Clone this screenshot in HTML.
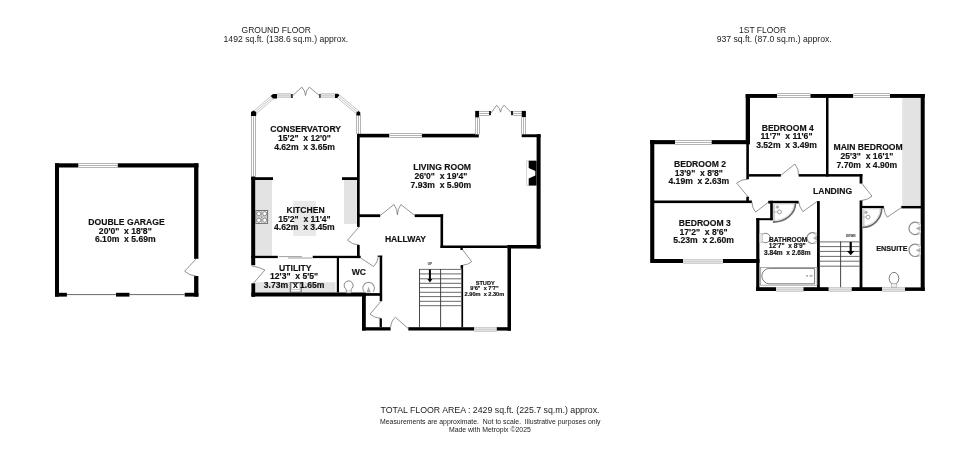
<!DOCTYPE html>
<html><head><meta charset="utf-8"><style>
html,body{margin:0;padding:0;background:#fff;width:980px;height:464px;overflow:hidden}
svg{display:block;will-change:transform}
text{font-family:"Liberation Sans",sans-serif;white-space:pre}
</style></head><body>
<svg width="980" height="464" viewBox="0 0 980 464">
<rect width="980" height="464" fill="#fff"/>
<rect x="55.00" y="163.30" width="23.60" height="4.20" fill="#000"/>
<rect x="78.60" y="163.00" width="39.20" height="5.00" fill="#fff"/>
<line x1="78.6" y1="163.5" x2="117.8" y2="163.5" stroke="#b4b4b4" stroke-width="1"/>
<line x1="78.6" y1="167.5" x2="117.8" y2="167.5" stroke="#b4b4b4" stroke-width="1"/>
<line x1="78.6" y1="165.5" x2="117.8" y2="165.5" stroke="#b4b4b4" stroke-width="1"/>
<rect x="117.80" y="163.30" width="80.60" height="4.20" fill="#000"/>
<rect x="55.00" y="163.30" width="4.00" height="133.30" fill="#000"/>
<rect x="194.10" y="163.30" width="4.30" height="95.50" fill="#000"/>
<rect x="194.10" y="276.00" width="4.30" height="20.60" fill="#000"/>
<rect x="55.00" y="292.80" width="11.90" height="3.80" fill="#000"/>
<rect x="116.00" y="292.80" width="13.50" height="3.80" fill="#000"/>
<rect x="184.70" y="292.80" width="13.70" height="3.80" fill="#000"/>
<line x1="66.9" y1="294.6" x2="116" y2="294.6" stroke="#444" stroke-width="0.8"/>
<line x1="129.5" y1="294.6" x2="184.7" y2="294.6" stroke="#444" stroke-width="0.8"/>
<path d="M196,259 L184.7,271.2 A16.81,16.81 0 0 0 196,276" fill="none" stroke="#666" stroke-width="0.7"/>
<rect x="251.00" y="116.00" width="5.00" height="60.50" fill="#fff"/>
<line x1="251.5" y1="116" x2="251.5" y2="176.5" stroke="#b4b4b4" stroke-width="1"/>
<line x1="255.5" y1="116" x2="255.5" y2="176.5" stroke="#b4b4b4" stroke-width="1"/>
<line x1="253.5" y1="116" x2="253.5" y2="176.5" stroke="#b4b4b4" stroke-width="1"/>
<polygon points="255.32,115.23 275.02,97.93 271.98,94.47 252.28,111.77" fill="#fff"/>
<line x1="254.99" y1="114.85" x2="274.69" y2="97.55" stroke="#bdbdbd" stroke-width="0.9"/>
<line x1="253.8" y1="113.5" x2="273.5" y2="96.2" stroke="#bdbdbd" stroke-width="0.9"/>
<line x1="252.61" y1="112.15" x2="272.31" y2="94.85" stroke="#bdbdbd" stroke-width="0.9"/>
<polygon points="251,112 253.5,110.4 256.2,112 256.2,116 251,116" fill="#000"/>
<polygon points="270.8,96 273,93.9 277,93.9 277,98.4 273,98.4" fill="#000"/>
<rect x="277.00" y="93.00" width="13.90" height="5.00" fill="#dedede"/>
<line x1="277" y1="93.5" x2="290.9" y2="93.5" stroke="#d2d2d2" stroke-width="1"/>
<line x1="277" y1="97.5" x2="290.9" y2="97.5" stroke="#d2d2d2" stroke-width="1"/>
<line x1="277" y1="95.5" x2="290.9" y2="95.5" stroke="#d2d2d2" stroke-width="1"/>
<rect x="290.90" y="94.00" width="1.90" height="4.00" fill="#333"/>
<path d="M292.8,95.5 L301.8,87.1 A12.51,12.51 0 0 1 305.5,95.5" fill="none" stroke="#666" stroke-width="0.7"/>
<path d="M319.3,95.5 L309.3,87.1 A13.43,13.43 0 0 0 305.5,95.5" fill="none" stroke="#666" stroke-width="0.7"/>
<rect x="319.30" y="94.00" width="1.50" height="4.00" fill="#111"/>
<rect x="320.80" y="93.00" width="14.20" height="5.00" fill="#dedede"/>
<line x1="320.8" y1="93.5" x2="335" y2="93.5" stroke="#d2d2d2" stroke-width="1"/>
<line x1="320.8" y1="97.5" x2="335" y2="97.5" stroke="#d2d2d2" stroke-width="1"/>
<line x1="320.8" y1="95.5" x2="335" y2="95.5" stroke="#d2d2d2" stroke-width="1"/>
<polygon points="335,93.8 338,93.8 340.2,96 338,97.9 335,97.9" fill="#000"/>
<polygon points="337.03,98.27 356.83,114.77 359.77,111.23 339.97,94.73" fill="#fff"/>
<line x1="337.35" y1="97.88" x2="357.15" y2="114.38" stroke="#bdbdbd" stroke-width="0.9"/>
<line x1="338.5" y1="96.5" x2="358.3" y2="113.0" stroke="#bdbdbd" stroke-width="0.9"/>
<line x1="339.65" y1="95.12" x2="359.45" y2="111.62" stroke="#bdbdbd" stroke-width="0.9"/>
<rect x="356.00" y="115.00" width="5.00" height="19.00" fill="#fff"/>
<line x1="356.5" y1="115" x2="356.5" y2="134" stroke="#b4b4b4" stroke-width="1"/>
<line x1="360.5" y1="115" x2="360.5" y2="134" stroke="#b4b4b4" stroke-width="1"/>
<line x1="358.5" y1="115" x2="358.5" y2="134" stroke="#b4b4b4" stroke-width="1"/>
<polygon points="356.4,112.5 358.5,110.9 360.3,112.5 360.3,115.5 356.4,115.5" fill="#000"/>
<rect x="255.20" y="180.00" width="16.80" height="75.80" fill="#e3e3e3"/>
<rect x="344.00" y="180.00" width="12.80" height="43.90" fill="#e3e3e3"/>
<rect x="293.20" y="200.80" width="22.70" height="35.20" fill="#e9e9e9"/>
<rect x="251.20" y="176.50" width="4.00" height="88.70" fill="#000"/>
<rect x="251.20" y="177.20" width="21.80" height="2.80" fill="#000"/>
<rect x="342.00" y="177.20" width="16.00" height="2.80" fill="#000"/>
<rect x="357.00" y="134.00" width="2.70" height="92.90" fill="#000"/>
<rect x="357.00" y="244.90" width="2.70" height="13.20" fill="#000"/>
<path d="M359,227 L347.5,240.2 A17.75,17.75 0 0 0 359,245" fill="none" stroke="#666" stroke-width="0.7"/>
<rect x="251.20" y="255.80" width="26.60" height="2.30" fill="#000"/>
<rect x="312.70" y="255.80" width="48.00" height="2.30" fill="#000"/>
<line x1="278.8" y1="256.6" x2="302" y2="256.6" stroke="#777" stroke-width="0.7"/>
<line x1="288" y1="258.0" x2="312.2" y2="258.0" stroke="#777" stroke-width="0.7"/>
<rect x="255.9" y="210.5" width="11.7" height="12.9" fill="#fff" stroke="#666" stroke-width="0.9"/>
<circle cx="258.8" cy="213.7" r="2.1" fill="none" stroke="#777" stroke-width="0.9"/>
<circle cx="264.7" cy="213.7" r="2.1" fill="none" stroke="#777" stroke-width="0.9"/>
<circle cx="258.8" cy="220.2" r="2.1" fill="none" stroke="#777" stroke-width="0.9"/>
<circle cx="264.7" cy="220.2" r="2.1" fill="none" stroke="#777" stroke-width="0.9"/>
<path d="M261.75,211 V223 M256.5,217 H267" stroke="#888" stroke-width="0.8"/>
<rect x="255.20" y="282.20" width="80.30" height="10.30" fill="#e3e3e3"/>
<rect x="251.40" y="283.30" width="3.80" height="13.50" fill="#000"/>
<path d="M251.6,265.8 Q259,267 264.9,270 L253.4,283.3" fill="none" stroke="#666" stroke-width="0.7"/>
<rect x="251.40" y="292.50" width="114.40" height="4.00" fill="#000"/>
<rect x="336.80" y="258.00" width="2.20" height="34.50" fill="#000"/>
<rect x="290.3" y="282.6" width="10.8" height="9.6" fill="#fff" stroke="#555" stroke-width="1"/>
<rect x="291.6" y="283.8" width="8.2" height="5.6" fill="#fff" stroke="#999" stroke-width="0.5"/>
<path d="M360.7,258 L373.6,266.5 A16.61,16.61 0 0 0 378.4,256.4" fill="none" stroke="#666" stroke-width="0.7"/>
<rect x="379.70" y="255.80" width="2.50" height="45.40" fill="#000"/>
<rect x="377.60" y="255.60" width="4.60" height="1.20" fill="#000"/>
<rect x="362.00" y="293.10" width="19.90" height="2.70" fill="#000"/>
<path d="M346.3,289.4 A4.5,4.6 0 1 1 351.0,289.4 L351.0,292.8 L346.3,292.8 Z" fill="#fff" stroke="#777" stroke-width="0.9"/>
<rect x="346.8" y="290" width="3.8" height="2.6" fill="#e8e8e8"/>
<path d="M364.2,292 A5.8,5.8 0 1 1 373.0,292" fill="#fff" stroke="#9a9a9a" stroke-width="1.1"/>
<path d="M368.6,286.5 L370.8,292.6 L366.4,292.6 Z" fill="#aaa"/>
<rect x="362.00" y="293.00" width="3.80" height="37.50" fill="#000"/>
<rect x="362.00" y="327.20" width="28.60" height="3.30" fill="#000"/>
<rect x="408.30" y="327.20" width="66.10" height="3.30" fill="#000"/>
<rect x="474.40" y="327.00" width="22.40" height="5.00" fill="#e3e3e3"/>
<line x1="474.4" y1="327.5" x2="496.8" y2="327.5" stroke="#cfcfcf" stroke-width="1"/>
<line x1="474.4" y1="331.5" x2="496.8" y2="331.5" stroke="#cfcfcf" stroke-width="1"/>
<line x1="474.4" y1="329.5" x2="496.8" y2="329.5" stroke="#cfcfcf" stroke-width="1"/>
<rect x="496.80" y="327.20" width="14.20" height="3.40" fill="#000"/>
<path d="M381,301.2 L370.1,314.1 A17.04,17.04 0 0 0 381,318.4" fill="none" stroke="#666" stroke-width="0.7"/>
<rect x="379.60" y="318.40" width="2.30" height="8.80" fill="#000"/>
<path d="M390.6,327.2 Q391.5,320 395.4,317.3 L408.3,328.6" fill="none" stroke="#666" stroke-width="0.7"/>
<rect x="357.00" y="214.30" width="23.20" height="2.80" fill="#000"/>
<rect x="414.70" y="214.30" width="28.40" height="2.80" fill="#000"/>
<path d="M380.2,215.5 L394,204.5 A17.43,17.43 0 0 1 397.4,214.8" fill="none" stroke="#666" stroke-width="0.7"/>
<path d="M414.7,215.5 L400.9,204.5 A17.48,17.48 0 0 0 397.4,214.8" fill="none" stroke="#666" stroke-width="0.7"/>
<rect x="440.50" y="214.30" width="2.60" height="33.70" fill="#000"/>
<rect x="440.50" y="245.50" width="67.00" height="2.50" fill="#000"/>
<rect x="507.50" y="245.00" width="33.00" height="3.50" fill="#000"/>
<rect x="507.50" y="245.00" width="3.50" height="85.60" fill="#000"/>
<rect x="536.60" y="134.30" width="4.00" height="114.20" fill="#000"/>
<rect x="460.40" y="247.90" width="2.40" height="2.10" fill="#000"/>
<path d="M462.8,250 L471.7,261.6 A14.91,14.91 0 0 1 462.8,265.2" fill="none" stroke="#666" stroke-width="0.7"/>
<rect x="460.60" y="265.20" width="2.30" height="3.30" fill="#000"/>
<rect x="461.40" y="265.20" width="1.70" height="62.00" fill="#000"/>
<line x1="419.5" y1="269.4" x2="461" y2="269.4" stroke="#6a6a6a" stroke-width="1"/>
<line x1="419.5" y1="273.9" x2="461" y2="273.9" stroke="#6a6a6a" stroke-width="1"/>
<line x1="419.5" y1="278.8" x2="461" y2="278.8" stroke="#6a6a6a" stroke-width="1"/>
<line x1="419.5" y1="283.3" x2="461" y2="283.3" stroke="#6a6a6a" stroke-width="1"/>
<line x1="419.5" y1="287.6" x2="461" y2="287.6" stroke="#6a6a6a" stroke-width="1"/>
<line x1="419.5" y1="292.3" x2="461" y2="292.3" stroke="#6a6a6a" stroke-width="1"/>
<line x1="419.5" y1="296.6" x2="461" y2="296.6" stroke="#6a6a6a" stroke-width="1"/>
<line x1="419.5" y1="301.3" x2="461" y2="301.3" stroke="#6a6a6a" stroke-width="1"/>
<line x1="419.5" y1="305.7" x2="461" y2="305.7" stroke="#6a6a6a" stroke-width="1"/>
<line x1="419.5" y1="269.0" x2="419.5" y2="327.2" stroke="#333" stroke-width="0.9"/>
<line x1="440.6" y1="269.0" x2="440.6" y2="327.2" stroke="#333" stroke-width="0.9"/>
<rect x="428.90" y="269.50" width="2.00" height="10.10" fill="#000"/>
<polygon points="427.4,279 432.4,279 429.9,282.6" fill="#000"/>
<rect x="357.00" y="133.80" width="32.50" height="3.60" fill="#000"/>
<rect x="389.50" y="133.00" width="32.40" height="5.00" fill="#fff"/>
<line x1="389.5" y1="133.5" x2="421.9" y2="133.5" stroke="#b4b4b4" stroke-width="1"/>
<line x1="389.5" y1="137.5" x2="421.9" y2="137.5" stroke="#b4b4b4" stroke-width="1"/>
<line x1="389.5" y1="135.5" x2="421.9" y2="135.5" stroke="#b4b4b4" stroke-width="1"/>
<rect x="421.90" y="133.80" width="56.90" height="3.60" fill="#000"/>
<rect x="475.00" y="117.40" width="5.00" height="16.90" fill="#fff"/>
<line x1="475.5" y1="117.4" x2="475.5" y2="134.3" stroke="#b4b4b4" stroke-width="1"/>
<line x1="479.5" y1="117.4" x2="479.5" y2="134.3" stroke="#b4b4b4" stroke-width="1"/>
<line x1="477.5" y1="117.4" x2="477.5" y2="134.3" stroke="#b4b4b4" stroke-width="1"/>
<rect x="475.20" y="110.90" width="3.80" height="6.50" fill="#000"/>
<rect x="479.00" y="111.00" width="10.00" height="5.00" fill="#fff"/>
<line x1="479" y1="111.5" x2="489" y2="111.5" stroke="#b4b4b4" stroke-width="1"/>
<line x1="479" y1="115.5" x2="489" y2="115.5" stroke="#b4b4b4" stroke-width="1"/>
<line x1="479" y1="113.5" x2="489" y2="113.5" stroke="#b4b4b4" stroke-width="1"/>
<rect x="489.00" y="111.00" width="2.00" height="4.20" fill="#222"/>
<path d="M491,113 L496.6,105.3 A9.53,9.53 0 0 1 500.5,112.2" fill="none" stroke="#666" stroke-width="0.7"/>
<path d="M511.7,113 L504,105.3 A11.06,11.06 0 0 0 500.5,112.2" fill="none" stroke="#666" stroke-width="0.7"/>
<rect x="511.00" y="111.00" width="2.40" height="4.20" fill="#222"/>
<rect x="513.40" y="111.00" width="8.30" height="5.00" fill="#fff"/>
<line x1="513.4" y1="111.5" x2="521.7" y2="111.5" stroke="#b4b4b4" stroke-width="1"/>
<line x1="513.4" y1="115.5" x2="521.7" y2="115.5" stroke="#b4b4b4" stroke-width="1"/>
<line x1="513.4" y1="113.5" x2="521.7" y2="113.5" stroke="#b4b4b4" stroke-width="1"/>
<rect x="521.70" y="110.90" width="4.20" height="6.50" fill="#000"/>
<rect x="521.00" y="117.40" width="5.00" height="16.90" fill="#fff"/>
<line x1="521.5" y1="117.4" x2="521.5" y2="134.3" stroke="#b4b4b4" stroke-width="1"/>
<line x1="525.5" y1="117.4" x2="525.5" y2="134.3" stroke="#b4b4b4" stroke-width="1"/>
<line x1="523.5" y1="117.4" x2="523.5" y2="134.3" stroke="#b4b4b4" stroke-width="1"/>
<rect x="521.70" y="134.30" width="18.90" height="2.90" fill="#000"/>
<rect x="526.8" y="160.9" width="9.6" height="24.6" fill="none" stroke="#aaa" stroke-width="0.5"/>
<polygon points="528.7,160.8 536.6,160.8 536.6,185.6 528.7,185.6 528.7,178.5 535.3,175.5 535.3,171 528.7,168" fill="#000"/>
<rect x="902.20" y="97.90" width="18.50" height="107.50" fill="#e3e3e3"/>
<rect x="650.20" y="140.10" width="4.10" height="122.70" fill="#000"/>
<rect x="650.20" y="140.10" width="24.80" height="4.10" fill="#000"/>
<rect x="675.00" y="140.00" width="36.70" height="5.00" fill="#fff"/>
<line x1="675" y1="140.5" x2="711.7" y2="140.5" stroke="#b4b4b4" stroke-width="1"/>
<line x1="675" y1="144.5" x2="711.7" y2="144.5" stroke="#b4b4b4" stroke-width="1"/>
<line x1="675" y1="142.5" x2="711.7" y2="142.5" stroke="#b4b4b4" stroke-width="1"/>
<rect x="711.70" y="140.10" width="38.30" height="4.10" fill="#000"/>
<rect x="745.70" y="94.00" width="4.30" height="50.20" fill="#000"/>
<rect x="746.30" y="144.00" width="2.60" height="35.20" fill="#000"/>
<rect x="746.30" y="196.70" width="2.60" height="5.80" fill="#000"/>
<rect x="745.70" y="94.00" width="31.50" height="3.90" fill="#000"/>
<rect x="777.20" y="93.00" width="33.30" height="5.00" fill="#fff"/>
<line x1="777.2" y1="93.5" x2="810.5" y2="93.5" stroke="#b4b4b4" stroke-width="1"/>
<line x1="777.2" y1="97.5" x2="810.5" y2="97.5" stroke="#b4b4b4" stroke-width="1"/>
<line x1="777.2" y1="95.5" x2="810.5" y2="95.5" stroke="#b4b4b4" stroke-width="1"/>
<rect x="810.50" y="94.00" width="42.90" height="3.90" fill="#000"/>
<rect x="853.40" y="93.00" width="36.60" height="5.00" fill="#fff"/>
<line x1="853.4" y1="93.5" x2="890" y2="93.5" stroke="#b4b4b4" stroke-width="1"/>
<line x1="853.4" y1="97.5" x2="890" y2="97.5" stroke="#b4b4b4" stroke-width="1"/>
<line x1="853.4" y1="95.5" x2="890" y2="95.5" stroke="#b4b4b4" stroke-width="1"/>
<rect x="890.00" y="94.00" width="34.80" height="3.90" fill="#000"/>
<rect x="826.00" y="94.00" width="2.50" height="82.60" fill="#000"/>
<rect x="920.70" y="94.00" width="4.00" height="196.90" fill="#000"/>
<rect x="748.90" y="174.10" width="32.00" height="2.50" fill="#000"/>
<rect x="798.70" y="174.10" width="63.70" height="2.50" fill="#000"/>
<path d="M780.9,175.3 L794.9,164 A17.90,17.90 0 0 1 798.7,175.3" fill="none" stroke="#666" stroke-width="0.7"/>
<rect x="859.60" y="174.10" width="2.80" height="9.50" fill="#000"/>
<path d="M862,183.6 L872,196.2 A16.44,16.44 0 0 1 862,200.4" fill="none" stroke="#666" stroke-width="0.7"/>
<rect x="859.60" y="200.40" width="2.80" height="90.20" fill="#000"/>
<path d="M748,196.7 L736.6,183.1 A17.62,17.62 0 0 1 748,179.2" fill="none" stroke="#666" stroke-width="0.7"/>
<rect x="654.00" y="200.50" width="97.90" height="2.60" fill="#000"/>
<path d="M768.6,202 L755.6,212.1 A16.58,16.58 0 0 1 751.9,202" fill="none" stroke="#666" stroke-width="0.7"/>
<rect x="768.20" y="200.80" width="30.50" height="2.70" fill="#000"/>
<rect x="770.20" y="200.80" width="2.70" height="19.40" fill="#000"/>
<rect x="756.20" y="218.20" width="16.70" height="2.00" fill="#000"/>
<path d="M817,201.5 L802.9,211.6 A17.82,17.82 0 0 1 798.7,201.5" fill="none" stroke="#666" stroke-width="0.7"/>
<rect x="817.00" y="201.10" width="2.80" height="89.20" fill="#000"/>
<rect x="756.20" y="218.20" width="3.20" height="72.50" fill="#000"/>
<rect x="650.70" y="259.00" width="32.30" height="4.00" fill="#000"/>
<rect x="683.00" y="259.00" width="40.00" height="5.00" fill="#e3e3e3"/>
<line x1="683" y1="259.5" x2="723" y2="259.5" stroke="#cfcfcf" stroke-width="1"/>
<line x1="683" y1="263.5" x2="723" y2="263.5" stroke="#cfcfcf" stroke-width="1"/>
<line x1="683" y1="261.5" x2="723" y2="261.5" stroke="#cfcfcf" stroke-width="1"/>
<rect x="723.00" y="259.00" width="36.50" height="4.00" fill="#000"/>
<rect x="756.00" y="287.20" width="20.00" height="3.80" fill="#000"/>
<rect x="776.00" y="287.00" width="27.50" height="5.00" fill="#e3e3e3"/>
<line x1="776" y1="287.5" x2="803.5" y2="287.5" stroke="#cfcfcf" stroke-width="1"/>
<line x1="776" y1="291.5" x2="803.5" y2="291.5" stroke="#cfcfcf" stroke-width="1"/>
<line x1="776" y1="289.5" x2="803.5" y2="289.5" stroke="#cfcfcf" stroke-width="1"/>
<rect x="803.50" y="287.20" width="25.30" height="3.80" fill="#000"/>
<rect x="828.80" y="287.00" width="22.90" height="5.00" fill="#e3e3e3"/>
<line x1="828.8" y1="287.5" x2="851.7" y2="287.5" stroke="#cfcfcf" stroke-width="1"/>
<line x1="828.8" y1="291.5" x2="851.7" y2="291.5" stroke="#cfcfcf" stroke-width="1"/>
<line x1="828.8" y1="289.5" x2="851.7" y2="289.5" stroke="#cfcfcf" stroke-width="1"/>
<rect x="851.70" y="287.20" width="30.30" height="3.80" fill="#000"/>
<rect x="882.00" y="287.00" width="23.00" height="5.00" fill="#e3e3e3"/>
<line x1="882" y1="287.5" x2="905" y2="287.5" stroke="#cfcfcf" stroke-width="1"/>
<line x1="882" y1="291.5" x2="905" y2="291.5" stroke="#cfcfcf" stroke-width="1"/>
<line x1="882" y1="289.5" x2="905" y2="289.5" stroke="#cfcfcf" stroke-width="1"/>
<rect x="905.00" y="287.40" width="19.70" height="3.50" fill="#000"/>
<line x1="819.8" y1="241.9" x2="859.8" y2="241.9" stroke="#6a6a6a" stroke-width="1"/>
<line x1="819.8" y1="246.6" x2="859.8" y2="246.6" stroke="#6a6a6a" stroke-width="1"/>
<line x1="819.8" y1="251.4" x2="859.8" y2="251.4" stroke="#6a6a6a" stroke-width="1"/>
<line x1="819.8" y1="256.4" x2="859.8" y2="256.4" stroke="#6a6a6a" stroke-width="1"/>
<line x1="819.8" y1="261.2" x2="859.8" y2="261.2" stroke="#6a6a6a" stroke-width="1"/>
<line x1="819.8" y1="266.2" x2="859.8" y2="266.2" stroke="#6a6a6a" stroke-width="1"/>
<line x1="840.6" y1="241.5" x2="840.6" y2="287.2" stroke="#333" stroke-width="0.9"/>
<rect x="849.60" y="241.90" width="2.20" height="9.60" fill="#000"/>
<polygon points="847,251 854.4,251 850.7,255.2" fill="#000"/>
<rect x="772.9" y="203.3" width="2.2" height="18.8" fill="#d0d0d0"/>
<rect x="772.9" y="203.3" width="22.6" height="1.2" fill="#dcdcdc"/>
<path d="M795.5,203.3 A22.6,18.8 0 0 1 772.9,222.10000000000002" fill="none" stroke="#6a6a6a" stroke-width="1.7"/>
<path d="M793.9,203.3 A21.0,17.2 0 0 1 772.9,220.50000000000003" fill="none" stroke="#c8c8c8" stroke-width="0.6"/>
<circle cx="777.4" cy="207" r="1.2" fill="#bbb" stroke="#888" stroke-width="0.5"/>
<circle cx="779.5" cy="211.9" r="2" fill="#fff" stroke="#888" stroke-width="0.8"/>
<line x1="773.4" y1="211.9" x2="777.5" y2="211.9" stroke="#999" stroke-width="0.6"/>
<rect x="862.00" y="205.90" width="21.90" height="2.50" fill="#000"/>
<rect x="901.30" y="205.90" width="22.70" height="2.50" fill="#000"/>
<path d="M883.9,207.5 Q884.5,214 887.3,217.2 L901.3,207.5" fill="none" stroke="#666" stroke-width="0.7"/>
<rect x="862.3" y="208.2" width="2.2" height="19.2" fill="#d0d0d0"/>
<rect x="862.3" y="208.2" width="19.4" height="1.2" fill="#dcdcdc"/>
<path d="M881.6999999999999,208.2 A19.4,19.2 0 0 1 862.3,227.39999999999998" fill="none" stroke="#6a6a6a" stroke-width="1.7"/>
<path d="M880.0999999999999,208.2 A17.799999999999997,17.599999999999998 0 0 1 862.3,225.79999999999998" fill="none" stroke="#c8c8c8" stroke-width="0.6"/>
<circle cx="866" cy="212.3" r="1.3" fill="#bbb" stroke="#888" stroke-width="0.5"/>
<circle cx="868" cy="217.1" r="2" fill="#fff" stroke="#888" stroke-width="0.8"/>
<line x1="862.8" y1="217.1" x2="866" y2="217.1" stroke="#999" stroke-width="0.6"/>
<path d="M920.7,223.74 L919.29,223.74 A6.2,6.2 0 1 0 919.29,233.06 L920.7,233.06 Z" fill="#fff" stroke="none"/>
<path d="M919.29,223.74 A6.2,6.2 0 1 0 919.29,233.06" fill="none" stroke="#8a8a8a" stroke-width="1.2"/>
<polygon points="920.7,225.8 920.7,231.0 915.7,228.4" fill="#b0b0b0"/>
<circle cx="919.29" cy="223.74" r="1.1" fill="#fff" stroke="#999" stroke-width="0.6"/>
<circle cx="919.29" cy="233.06" r="1.1" fill="#fff" stroke="#999" stroke-width="0.6"/>
<path d="M920.7,245.64 L919.29,245.64 A6.2,6.2 0 1 0 919.29,254.96 L920.7,254.96 Z" fill="#fff" stroke="none"/>
<path d="M919.29,245.64 A6.2,6.2 0 1 0 919.29,254.96" fill="none" stroke="#8a8a8a" stroke-width="1.2"/>
<polygon points="920.7,247.70000000000002 920.7,252.9 915.7,250.3" fill="#b0b0b0"/>
<circle cx="919.29" cy="245.64" r="1.1" fill="#fff" stroke="#999" stroke-width="0.6"/>
<circle cx="919.29" cy="254.96" r="1.1" fill="#fff" stroke="#999" stroke-width="0.6"/>
<path d="M817,234.04 L815.86,234.04 A5.4,5.4 0 1 0 815.86,242.16 L817,242.16 Z" fill="#fff" stroke="none"/>
<path d="M815.86,234.04 A5.4,5.4 0 1 0 815.86,242.16" fill="none" stroke="#8a8a8a" stroke-width="1.2"/>
<polygon points="817,235.5 817,240.7 812.8,238.1" fill="#b0b0b0"/>
<circle cx="815.86" cy="234.04" r="1.1" fill="#fff" stroke="#999" stroke-width="0.6"/>
<circle cx="815.86" cy="242.16" r="1.1" fill="#fff" stroke="#999" stroke-width="0.6"/>
<ellipse cx="894" cy="278.4" rx="4.8" ry="6" fill="#fff" stroke="#6a6a6a" stroke-width="0.9"/>
<rect x="891.2" y="283.8" width="5.6" height="3.4" fill="#eee" stroke="#999" stroke-width="0.5"/>
<rect x="760.5" y="267.4" width="56.5" height="17.8" fill="#fff" stroke="#999" stroke-width="0.8"/>
<path d="M769.5,268.4 L814.6,268.4 L814.6,283.8 L769.5,283.8 A7.7,7.7 0 0 1 769.5,268.4 Z" fill="#fff" stroke="#7a7a7a" stroke-width="1"/>
<path d="M806,275.8 h2 M809.5,275.8 h3" stroke="#999" stroke-width="1.2"/>
<ellipse cx="765.4" cy="238" rx="5" ry="4.7" fill="#fff" stroke="#7a7a7a" stroke-width="0.9"/>
<rect x="759.4" y="233.6" width="3" height="8.8" fill="#e6e6e6" stroke="#aaa" stroke-width="0.5"/>
<text x="429.9" y="264.9" font-size="3" font-weight="bold" fill="#555" stroke="#555" stroke-width="0.15" text-anchor="middle">UP</text>
<text x="850.7" y="236.9" font-size="3" font-weight="bold" fill="#555" stroke="#555" stroke-width="0.15" text-anchor="middle">DOWN</text>
<text x="126.5" y="224.7" font-size="8.6" font-weight="bold" fill="#111" stroke="#111" stroke-width="0.15" text-anchor="middle">DOUBLE GARAGE</text>
<text x="125.3" y="233.6" font-size="8.6" font-weight="bold" fill="#111" stroke="#111" stroke-width="0.15" text-anchor="middle">20'0&quot;  x 18'8&quot;</text>
<text x="125.3" y="242.3" font-size="8.6" font-weight="bold" fill="#111" stroke="#111" stroke-width="0.15" text-anchor="middle">6.10m  x 5.69m</text>
<text x="305.7" y="132.1" font-size="8.6" font-weight="bold" fill="#111" stroke="#111" stroke-width="0.15" text-anchor="middle">CONSERVATORY</text>
<text x="304.5" y="140.7" font-size="8.6" font-weight="bold" fill="#111" stroke="#111" stroke-width="0.15" text-anchor="middle">15'2&quot;  x 12'0&quot;</text>
<text x="304.5" y="149.6" font-size="8.6" font-weight="bold" fill="#111" stroke="#111" stroke-width="0.15" text-anchor="middle">4.62m  x 3.65m</text>
<text x="305.6" y="212.7" font-size="8.6" font-weight="bold" fill="#111" stroke="#111" stroke-width="0.15" text-anchor="middle">KITCHEN</text>
<text x="304.4" y="221.5" font-size="8.6" font-weight="bold" fill="#111" stroke="#111" stroke-width="0.15" text-anchor="middle">15'2&quot;  x 11'4&quot;</text>
<text x="304.4" y="229.9" font-size="8.6" font-weight="bold" fill="#111" stroke="#111" stroke-width="0.15" text-anchor="middle">4.62m  x 3.45m</text>
<text x="295.3" y="270.7" font-size="8.6" font-weight="bold" fill="#111" stroke="#111" stroke-width="0.15" text-anchor="middle">UTILITY</text>
<text x="294.1" y="279.2" font-size="8.6" font-weight="bold" fill="#111" stroke="#111" stroke-width="0.15" text-anchor="middle">12'3&quot;  x 5'5&quot;</text>
<text x="294.1" y="287.7" font-size="8.6" font-weight="bold" fill="#111" stroke="#111" stroke-width="0.15" text-anchor="middle">3.73m  x 1.65m</text>
<text x="358.8" y="274.9" font-size="8.6" font-weight="bold" fill="#111" stroke="#111" stroke-width="0.15" text-anchor="middle">WC</text>
<text x="405.5" y="241.9" font-size="8.6" font-weight="bold" fill="#111" stroke="#111" stroke-width="0.15" text-anchor="middle">HALLWAY</text>
<text x="442.1" y="170.3" font-size="8.6" font-weight="bold" fill="#111" stroke="#111" stroke-width="0.15" text-anchor="middle">LIVING ROOM</text>
<text x="440.9" y="178.7" font-size="8.6" font-weight="bold" fill="#111" stroke="#111" stroke-width="0.15" text-anchor="middle">26'0&quot;  x 19'4&quot;</text>
<text x="440.9" y="187.8" font-size="8.6" font-weight="bold" fill="#111" stroke="#111" stroke-width="0.15" text-anchor="middle">7.93m  x 5.90m</text>
<text x="485.2" y="284.8" font-size="5.62" font-weight="bold" fill="#111" stroke="#111" stroke-width="0.15" text-anchor="middle">STUDY</text>
<text x="484.42" y="290.0" font-size="5.62" font-weight="bold" fill="#111" stroke="#111" stroke-width="0.15" text-anchor="middle">9'6&quot;  x 7'7&quot;</text>
<text x="484.42" y="295.6" font-size="5.62" font-weight="bold" fill="#111" stroke="#111" stroke-width="0.15" text-anchor="middle">2.90m  x 2.30m</text>
<text x="700" y="166.8" font-size="8.6" font-weight="bold" fill="#111" stroke="#111" stroke-width="0.15" text-anchor="middle">BEDROOM 2</text>
<text x="698.8" y="175.7" font-size="8.6" font-weight="bold" fill="#111" stroke="#111" stroke-width="0.15" text-anchor="middle">13'9&quot;  x 8'8&quot;</text>
<text x="698.8" y="184.1" font-size="8.6" font-weight="bold" fill="#111" stroke="#111" stroke-width="0.15" text-anchor="middle">4.19m  x 2.63m</text>
<text x="704.8" y="226.1" font-size="8.6" font-weight="bold" fill="#111" stroke="#111" stroke-width="0.15" text-anchor="middle">BEDROOM 3</text>
<text x="703.6" y="234.8" font-size="8.6" font-weight="bold" fill="#111" stroke="#111" stroke-width="0.15" text-anchor="middle">17'2&quot;  x 8'6&quot;</text>
<text x="703.6" y="243.1" font-size="8.6" font-weight="bold" fill="#111" stroke="#111" stroke-width="0.15" text-anchor="middle">5.23m  x 2.60m</text>
<text x="787.7" y="130.5" font-size="8.6" font-weight="bold" fill="#111" stroke="#111" stroke-width="0.15" text-anchor="middle">BEDROOM 4</text>
<text x="786.5" y="139" font-size="8.6" font-weight="bold" fill="#111" stroke="#111" stroke-width="0.15" text-anchor="middle">11'7&quot;  x 11'6&quot;</text>
<text x="786.5" y="147.8" font-size="8.6" font-weight="bold" fill="#111" stroke="#111" stroke-width="0.15" text-anchor="middle">3.52m  x 3.49m</text>
<text x="868.1" y="149.8" font-size="8.6" font-weight="bold" fill="#111" stroke="#111" stroke-width="0.15" text-anchor="middle">MAIN BEDROOM</text>
<text x="866.9" y="158.7" font-size="8.6" font-weight="bold" fill="#111" stroke="#111" stroke-width="0.15" text-anchor="middle">25'3&quot;  x 16'1&quot;</text>
<text x="866.9" y="167.6" font-size="8.6" font-weight="bold" fill="#111" stroke="#111" stroke-width="0.15" text-anchor="middle">7.70m  x 4.90m</text>
<text x="832.5" y="193.7" font-size="8.6" font-weight="bold" fill="#111" stroke="#111" stroke-width="0.15" text-anchor="middle">LANDING</text>
<text x="788.2" y="241.8" font-size="6.6" font-weight="bold" fill="#111" stroke="#111" stroke-width="0.15" text-anchor="middle">BATHROOM</text>
<text x="787.28" y="248.3" font-size="6.6" font-weight="bold" fill="#111" stroke="#111" stroke-width="0.15" text-anchor="middle">12'7&quot;  x 8'9&quot;</text>
<text x="787.28" y="254.7" font-size="6.6" font-weight="bold" fill="#111" stroke="#111" stroke-width="0.15" text-anchor="middle">3.84m  x 2.68m</text>
<text x="891.9" y="251.2" font-size="7.2" font-weight="bold" fill="#111" stroke="#111" stroke-width="0.15" text-anchor="middle">ENSUITE</text>
<text x="276.3" y="33.2" font-size="8.5" font-weight="normal" fill="#222" text-anchor="middle">GROUND FLOOR</text>
<text x="285.9" y="42.4" font-size="8.64" font-weight="normal" fill="#222" text-anchor="middle">1492 sq.ft. (138.6 sq.m.) approx.</text>
<text x="762.6" y="33.2" font-size="8.5" font-weight="normal" fill="#222" text-anchor="middle">1ST FLOOR</text>
<text x="774.2" y="42.4" font-size="8.64" font-weight="normal" fill="#222" text-anchor="middle">937 sq.ft. (87.0 sq.m.) approx.</text>
<text x="490" y="413" font-size="8.78" font-weight="normal" fill="#222" text-anchor="middle">TOTAL FLOOR AREA : 2429 sq.ft. (225.7 sq.m.) approx.</text>
<text x="490.3" y="424" font-size="6.89" font-weight="normal" fill="#222" text-anchor="middle">Measurements are approximate.  Not to scale.  Illustrative purposes only</text>
<text x="489.9" y="431.8" font-size="6.88" font-weight="normal" fill="#222" text-anchor="middle">Made with Metropix ©2025</text>
</svg>
</body></html>
